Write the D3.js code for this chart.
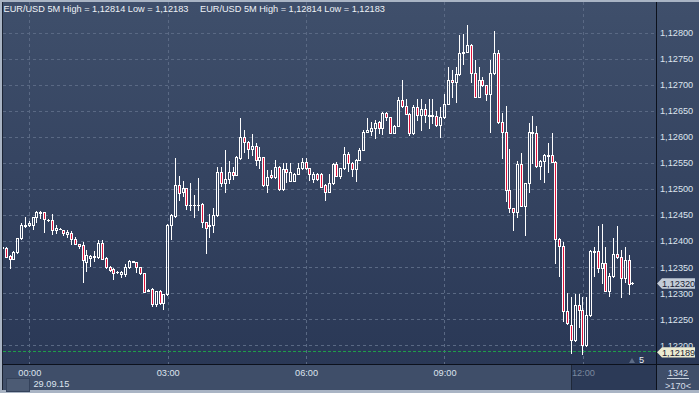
<!DOCTYPE html>
<html><head><meta charset="utf-8">
<script src="https://cdn.jsdelivr.net/npm/d3@7"></script>
<style>
html,body{margin:0;padding:0;background:#a9b4c4;}
svg{display:block;}
text{font-family:"Liberation Sans",Arial,sans-serif;font-size:9.2px;}
</style></head><body>
<svg id="chart" width="699" height="393"></svg>
<script>
// EUR/USD 5M bars, first bar 28.09.15 23:25
var startTime = Date.UTC(2015, 8, 28, 23, 25);
var barMinutes = 5;

var open = [
1.12387,1.12386,1.12372,1.12366,1.12379,1.12405,1.12428,
1.12431,1.12430,1.12446,1.12453,1.12455,1.12441,1.12441,1.12421,1.12424,1.12422,
1.12414,1.12415,1.12404,1.12394,1.12393,1.12359,1.12368,1.12371,1.12369,1.12397,
1.12368,1.12350,1.12347,1.12341,1.12337,1.12336,1.12350,1.12361,1.12359,1.12350,
1.12338,1.12306,1.12308,1.12279,1.12304,1.12281,1.12298,1.12431,1.12448,1.12508,
1.12495,1.12501,1.12469,1.12469,1.12470,1.12471,1.12436,1.12430,1.12430,1.12449,
1.12533,1.12511,1.12519,1.12533,1.12527,1.12559,1.12600,1.12590,1.12576,1.12583,
1.12556,1.12561,1.12508,1.12527,1.12522,1.12542,1.12499,1.12538,1.12516,1.12516,
1.12529,1.12540,1.12552,1.12540,1.12519,1.12529,1.12529,1.12508,1.12495,1.12511,
1.12548,1.12525,1.12540,1.12567,1.12550,1.12538,1.12556,1.12575,1.12610,1.12612,
1.12616,1.12629,1.12616,1.12645,1.12637,1.12608,1.12621,1.12671,1.12659,1.12644,
1.12607,1.12657,1.12642,1.12653,1.12640,1.12641,1.12640,1.12623,1.12637,1.12663,
1.12709,1.12705,1.12720,1.12760,1.12763,1.12776,1.12722,1.12677,1.12709,1.12699,
1.12682,1.12722,1.12760,1.12628,1.12609,1.12498,1.12463,1.12455,1.12547,1.12468,
1.12511,1.12610,1.12608,1.12543,1.12554,1.12565,1.12565,1.12552,1.12404,1.12391,
1.12265,1.12239,1.12210,1.12278,1.12267,1.12200,1.12258,1.12380,1.12380,1.12348,
1.12358,1.12305,1.12332,1.12375,1.12369,1.12329,1.12364,1.12320
];
var high = [
1.12391,1.12389,1.12373,1.12380,1.12405,1.12435,1.12446,
1.12439,1.12447,1.12457,1.12458,1.12456,1.12442,1.12451,1.12430,1.12425,1.12422,
1.12421,1.12420,1.12408,1.12395,1.12399,1.12383,1.12373,1.12380,1.12402,1.12402,
1.12370,1.12352,1.12348,1.12342,1.12342,1.12356,1.12364,1.12362,1.12360,1.12351,
1.12339,1.12308,1.12309,1.12305,1.12306,1.12299,1.12433,1.12451,1.12559,1.12525,
1.12515,1.12502,1.12511,1.12488,1.12520,1.12472,1.12437,1.12452,1.12463,1.12542,
1.12542,1.12574,1.12554,1.12542,1.12563,1.12636,1.12613,1.12591,1.12605,1.12589,
1.12581,1.12562,1.12536,1.12536,1.12556,1.12544,1.12549,1.12550,1.12549,1.12530,
1.12550,1.12559,1.12560,1.12541,1.12533,1.12530,1.12530,1.12509,1.12529,1.12549,
1.12552,1.12541,1.12581,1.12571,1.12551,1.12557,1.12579,1.12613,1.12636,1.12629,
1.12632,1.12630,1.12648,1.12648,1.12638,1.12622,1.12676,1.12709,1.12672,1.12645,
1.12661,1.12673,1.12672,1.12663,1.12672,1.12672,1.12650,1.12657,1.12682,1.12734,
1.12728,1.12734,1.12795,1.12798,1.12814,1.12777,1.12747,1.12734,1.12715,1.12700,
1.12747,1.12802,1.12766,1.12645,1.12659,1.12576,1.12464,1.12554,1.12568,1.12512,
1.12626,1.12639,1.12621,1.12555,1.12566,1.12588,1.12607,1.12553,1.12405,1.12398,
1.12300,1.12293,1.12298,1.12298,1.12293,1.12293,1.12382,1.12389,1.12428,1.12433,
1.12389,1.12338,1.12405,1.12428,1.12383,1.12389,1.12373,1.12322
];
var low = [
1.12385,1.12369,1.12348,1.12365,1.12378,1.12404,1.12427,
1.12429,1.12423,1.12437,1.12444,1.12418,1.12439,1.12413,1.12416,1.12423,1.12412,
1.12407,1.12394,1.12394,1.12386,1.12321,1.12343,1.12352,1.12361,1.12368,1.12365,
1.12349,1.12342,1.12328,1.12339,1.12331,1.12332,1.12349,1.12359,1.12341,1.12337,
1.12302,1.12304,1.12276,1.12276,1.12280,1.12269,1.12297,1.12404,1.12447,1.12479,
1.12487,1.12462,1.12460,1.12447,1.12460,1.12427,1.12377,1.12407,1.12418,1.12448,
1.12506,1.12495,1.12512,1.12519,1.12526,1.12558,1.12571,1.12559,1.12565,1.12546,
1.12540,1.12506,1.12495,1.12521,1.12521,1.12498,1.12498,1.12514,1.12515,1.12515,
1.12528,1.12539,1.12539,1.12517,1.12514,1.12518,1.12503,1.12478,1.12494,1.12510,
1.12524,1.12520,1.12539,1.12535,1.12525,1.12516,1.12555,1.12574,1.12609,1.12603,
1.12597,1.12607,1.12605,1.12632,1.12607,1.12607,1.12620,1.12658,1.12643,1.12603,
1.12606,1.12632,1.12613,1.12629,1.12616,1.12626,1.12621,1.12599,1.12636,1.12662,
1.12677,1.12667,1.12719,1.12739,1.12762,1.12706,1.12676,1.12676,1.12698,1.12671,
1.12610,1.12721,1.12627,1.12559,1.12476,1.12456,1.12421,1.12446,1.12467,1.12412,
1.12495,1.12549,1.12542,1.12519,1.12514,1.12533,1.12551,1.12358,1.12332,1.12246,
1.12241,1.12185,1.12209,1.12236,1.12183,1.12199,1.12257,1.12332,1.12341,1.12319,
1.12304,1.12295,1.12331,1.12368,1.12293,1.12322,1.12299,1.12318
];
var close = [
1.12389,1.12370,1.12366,1.12379,1.12405,1.12431,1.12431,
1.12435,1.12446,1.12456,1.12456,1.12442,1.12440,1.12421,1.12425,1.12424,1.12415,
1.12417,1.12404,1.12395,1.12391,1.12364,1.12373,1.12372,1.12370,1.12397,1.12366,
1.12350,1.12345,1.12339,1.12340,1.12341,1.12351,1.12361,1.12360,1.12350,1.12338,
1.12303,1.12305,1.12279,1.12304,1.12281,1.12298,1.12431,1.12450,1.12508,1.12492,
1.12501,1.12469,1.12470,1.12470,1.12469,1.12436,1.12425,1.12429,1.12449,1.12533,
1.12511,1.12519,1.12533,1.12527,1.12561,1.12600,1.12590,1.12576,1.12583,1.12556,
1.12561,1.12508,1.12522,1.12522,1.12542,1.12499,1.12538,1.12533,1.12533,1.12529,
1.12540,1.12552,1.12540,1.12529,1.12529,1.12519,1.12504,1.12495,1.12511,1.12548,
1.12525,1.12540,1.12567,1.12550,1.12538,1.12556,1.12575,1.12610,1.12613,1.12616,
1.12627,1.12616,1.12645,1.12637,1.12608,1.12621,1.12671,1.12659,1.12644,1.12607,
1.12657,1.12642,1.12653,1.12642,1.12641,1.12640,1.12623,1.12637,1.12663,1.12709,
1.12705,1.12720,1.12760,1.12763,1.12776,1.12722,1.12677,1.12709,1.12699,1.12682,
1.12722,1.12760,1.12628,1.12609,1.12498,1.12463,1.12455,1.12547,1.12468,1.12511,
1.12610,1.12608,1.12543,1.12554,1.12565,1.12564,1.12552,1.12404,1.12391,1.12265,
1.12242,1.12210,1.12278,1.12267,1.12200,1.12258,1.12381,1.12379,1.12348,1.12358,
1.12305,1.12332,1.12375,1.12369,1.12329,1.12364,1.12318,1.12320
];

var titleText = "EUR/USD 5M High = 1,12814 Low = 1,12183";
var lastPrice = 1.12320;
var lowLinePrice = 1.12189;
var dateLabel = "29.09.15";
var barsCount = "1342";
var spreadLabel = ">170<";
var shiftLabel = "5";

var width = 699, height = 393;
var plotL = 3, plotR = 656, plotT = 2, plotB = 364;

var data = open.map(function(o, i) {
    return {t: new Date(startTime + i * barMinutes * 60000), o: o, h: high[i], l: low[i], c: close[i]};
});

var x = d3.scaleUtc()
    .domain([new Date(Date.UTC(2015, 8, 29, 0, 0)), new Date(Date.UTC(2015, 8, 29, 12, 0))])
    .range([29.3, 582.9]);
var y = d3.scaleLinear().domain([1.122, 1.128]).range([345.3, 32.5]);
var fmt = function(v) { return d3.format(".5f")(v).replace(".", ","); };

var svg = d3.select("#chart");

var defs = svg.append("defs");
var grad = defs.append("linearGradient")
    .attr("id", "bg").attr("x1", 0).attr("y1", 0).attr("x2", 0).attr("y2", 1);
grad.append("stop").attr("offset", "0%").attr("stop-color", "#3f4f6b");
grad.append("stop").attr("offset", "100%").attr("stop-color", "#2a3856");
defs.append("clipPath").attr("id", "plotclip")
    .append("rect").attr("x", plotL).attr("y", plotT).attr("width", plotR - plotL).attr("height", plotB - plotT);
// the low tag hides the lower half of the last axis label
defs.append("clipPath").attr("id", "axisclip")
    .append("rect").attr("x", 657).attr("y", 0).attr("width", 42).attr("height", 347.5);

// panels
svg.append("rect").attr("x", 2).attr("y", 2).attr("width", 697).attr("height", 362).attr("fill", "url(#bg)");
svg.append("rect").attr("x", 2).attr("y", 365).attr("width", 697).attr("height", 25).attr("fill", "#3f4e69");
svg.append("rect").attr("x", 571).attr("y", 365).attr("width", 85).attr("height", 25).attr("fill", "#2c3a57");
svg.append("line").attr("x1", 571.5).attr("x2", 571.5).attr("y1", 365).attr("y2", 390).attr("stroke", "#1f2839");

// grid
var yTicks = y.ticks(12);
var xTicks = x.ticks(d3.utcHour.every(3));
svg.append("g").selectAll("line").data(yTicks).enter().append("line")
    .attr("x1", plotL).attr("x2", plotR)
    .attr("y1", function(d) { return Math.round(y(d)) + 0.5; })
    .attr("y2", function(d) { return Math.round(y(d)) + 0.5; })
    .attr("stroke", "#5a6984").attr("stroke-dasharray", "3,3");
svg.append("g").selectAll("line").data(xTicks).enter().append("line")
    .attr("x1", function(d) { return Math.round(x(d)) + 0.5; })
    .attr("x2", function(d) { return Math.round(x(d)) + 0.5; })
    .attr("y1", plotT).attr("y2", plotB)
    .attr("stroke", "#5a6984").attr("stroke-dasharray", "3,3");

// low line
svg.append("line").attr("x1", plotL).attr("x2", plotR)
    .attr("y1", Math.round(y(lowLinePrice)) + 0.5).attr("y2", Math.round(y(lowLinePrice)) + 0.5)
    .attr("stroke", "#1e9e4a").attr("stroke-dasharray", "3,2");

// candles
var red = "#e0143c";
var g = svg.append("g").attr("clip-path", "url(#plotclip)");
var bars = g.selectAll("g.bar").data(data).enter().append("g").attr("class", "bar");
bars.each(function(d) {
    var el = d3.select(this);
    var px = Math.round(x(d.t) - 0.5);
    var top = Math.round(y(Math.max(d.o, d.c)));
    var bot = Math.round(y(Math.min(d.o, d.c)));
    var yh = Math.round(y(d.h)), yl = Math.round(y(d.l));
    if (bot - top < 1) {
        el.append("line").attr("x1", px + 0.5).attr("x2", px + 0.5).attr("y1", yh).attr("y2", yl + 1)
            .attr("stroke", "#fff");
        el.append("line").attr("x1", px - 1).attr("x2", px + 2).attr("y1", top + 0.5).attr("y2", top + 0.5)
            .attr("stroke", "#fff");
        return;
    }
    if (yh < top) el.append("line").attr("x1", px + 0.5).attr("x2", px + 0.5).attr("y1", yh).attr("y2", top).attr("stroke", "#fff");
    if (yl > bot) el.append("line").attr("x1", px + 0.5).attr("x2", px + 0.5).attr("y1", bot + 1).attr("y2", yl + 1).attr("stroke", "#fff");
    el.append("rect").attr("x", px - 0.5).attr("y", top + 0.5).attr("width", 2).attr("height", bot - top)
        .attr("fill", d.c < d.o ? red : "none").attr("stroke", "#fff");
});

// frame lines
svg.append("line").attr("x1", 2).attr("x2", 699).attr("y1", 364.5).attr("y2", 364.5).attr("stroke", "#0c111c");
svg.append("line").attr("x1", 656.5).attr("x2", 656.5).attr("y1", 2).attr("y2", 390).attr("stroke", "#0c111c");
svg.append("line").attr("x1", 2.5).attr("x2", 2.5).attr("y1", 2).attr("y2", 390).attr("stroke", "#1b2333");

// title
svg.append("text").attr("x", 3.5).attr("y", 11.5).attr("fill", "#eef2f7").text(titleText);
svg.append("text").attr("x", 200).attr("y", 11.5).attr("fill", "#eef2f7").text(titleText);

// y axis
var yAxis = svg.append("g").attr("transform", "translate(657,0)")
    .call(d3.axisRight(y).tickValues(yTicks).tickSize(0).tickPadding(3).tickFormat(fmt));
yAxis.select(".domain").remove();
yAxis.attr("font-family", null).attr("font-size", null);
yAxis.selectAll("text").attr("fill", "#dde4ee");
svg.append("g").attr("clip-path", "url(#axisclip)").node().appendChild(yAxis.node());

// x axis
var xAxis = svg.append("g").attr("transform", "translate(0,365)")
    .call(d3.axisBottom(x).tickValues(xTicks).tickSize(0).tickPadding(4.5).tickFormat(d3.utcFormat("%H:%M")));
xAxis.select(".domain").remove();
xAxis.attr("font-family", null).attr("font-size", null);
xAxis.selectAll("text")
    .attr("fill", function(d) { return d.getUTCHours() === 12 ? "#7b889e" : "#dde4ee"; });

svg.append("rect").attr("x", 6.5).attr("y", 378.5).attr("width", 23).attr("height", 13)
    .attr("fill", "#4c5b74").attr("stroke", "#34425b");
svg.append("text").attr("x", 33.5).attr("y", 387).attr("fill", "#dde4ee").text(dateLabel);

// price tags
function tag(price, fill, dy) {
    var cy = y(price) + dy;
    svg.append("path")
        .attr("d", "M657," + cy + "L662," + (cy - 5.2) + "H695V" + (cy + 5.2) + "H662Z")
        .attr("fill", fill);
    svg.append("text").attr("x", 662).attr("y", cy + 3.3).attr("fill", "#1a2233").text(fmt(price));
}
tag(lastPrice, "#c3ccd8", 0.7);
tag(lowLinePrice, "#ecebd2", 1.3);

// shift marker
svg.append("path").attr("d", "M629,363L632,358L635,363Z").attr("fill", "#5d6c86");
svg.append("text").attr("x", 639).attr("y", 362.5).attr("fill", "#e6ebf2").text(shiftLabel);

// bottom right box
svg.append("text").attr("x", 678).attr("y", 375.5).attr("text-anchor", "middle").attr("fill", "#d6dde8").text(barsCount);
svg.append("line").attr("x1", 667).attr("x2", 689).attr("y1", 378.5).attr("y2", 378.5).attr("stroke", "#c9d1dd");
svg.append("text").attr("x", 678).attr("y", 388.5).attr("text-anchor", "middle").attr("fill", "#d6dde8").text(spreadLabel);
</script>
</body></html>
